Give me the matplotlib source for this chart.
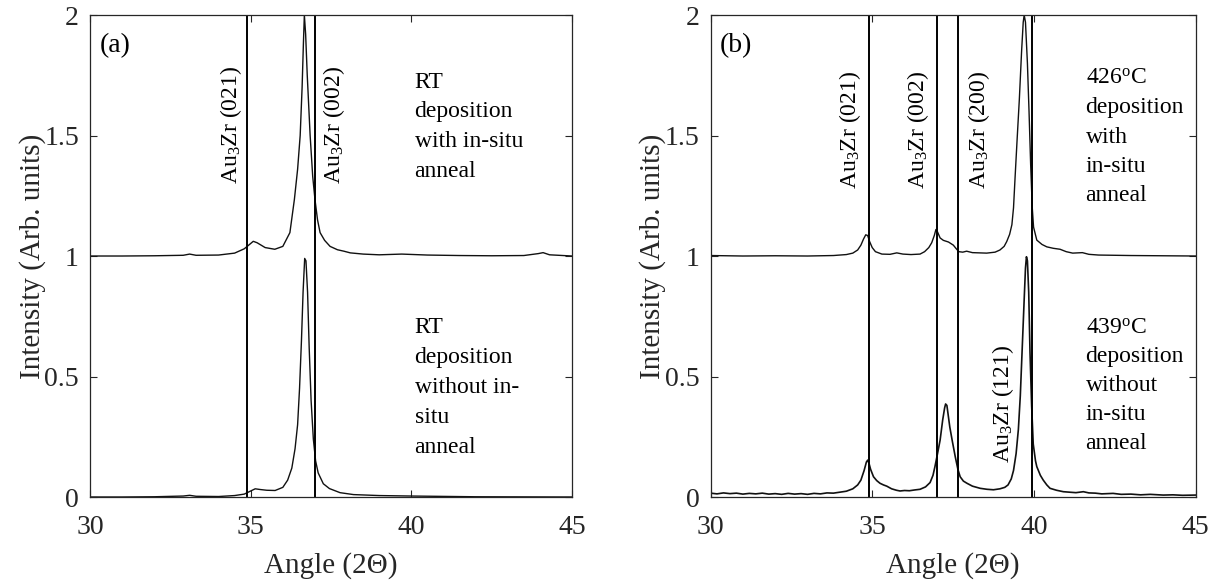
import matplotlib
matplotlib.use("Agg")
import matplotlib.pyplot as plt

plt.rcParams['font.family'] = ['Liberation Serif', 'DejaVu Serif']
plt.rcParams['mathtext.fontset'] = 'custom'
plt.rcParams['mathtext.rm'] = 'Liberation Serif'
plt.rcParams['mathtext.it'] = 'Liberation Serif:italic'

# ---------------- data ----------------
# Panel (a), top curve: RT deposition with in-situ anneal (offset +1)
a_top_x = [30, 31, 32, 32.9, 33.1, 33.3, 34, 34.5, 34.8, 35.0, 35.08, 35.2, 35.45, 35.75,
           36.0, 36.22, 36.36, 36.46, 36.54, 36.6, 36.64, 36.67, 36.71, 36.76, 36.85, 36.93,
           37.0, 37.08, 37.16, 37.3, 37.47, 37.7, 37.9, 38.1, 38.5, 39.0, 39.7, 40.5, 41.5,
           42.5, 43.5, 43.95, 44.1, 44.3, 45]
a_top_y = [1.0, 1.0, 1.001, 1.003, 1.008, 1.003, 1.004, 1.012, 1.03, 1.052, 1.061, 1.055,
           1.035, 1.028, 1.04, 1.097, 1.235, 1.36, 1.5, 1.7, 1.88, 2.0, 1.92, 1.75, 1.5,
           1.33, 1.235, 1.15, 1.097, 1.065, 1.04, 1.026, 1.02, 1.013, 1.008, 1.005, 1.008,
           1.004, 1.002, 1.001, 1.002, 1.01, 1.014, 1.005, 1.0]

# Panel (a), bottom curve: RT deposition without in-situ anneal
a_bot_x = [30, 31, 32, 32.9, 33.1, 33.3, 34, 34.5, 34.8, 35.0, 35.14, 35.3, 35.5, 35.76,
           36.0, 36.15, 36.28, 36.38, 36.46, 36.52, 36.58, 36.63, 36.68, 36.72, 36.77,
           36.82, 36.88, 36.95, 37.02, 37.1, 37.26, 37.45, 37.78, 38.2, 39, 40, 42, 45]
a_bot_y = [0.0, 0.0, 0.001, 0.004, 0.007, 0.003, 0.002, 0.006, 0.012, 0.025, 0.034, 0.031,
           0.028, 0.027, 0.04, 0.07, 0.12, 0.2, 0.3, 0.45, 0.65, 0.85, 0.99, 0.98, 0.85,
           0.62, 0.4, 0.24, 0.15, 0.1, 0.055, 0.035, 0.018, 0.01, 0.006, 0.004, 0.001, 0.0]

# Panel (b), top curve: 426 C deposition with in-situ anneal (offset +1)
b_top_x = [30.0, 31.0, 32.0, 33.0, 33.8, 34.2, 34.4, 34.55, 34.65, 34.73, 34.8, 34.86, 34.92,
           35.0, 35.1, 35.3, 35.55, 35.76, 35.95, 36.2, 36.48, 36.62, 36.75, 36.84, 36.92,
           36.97, 37.02, 37.1, 37.2, 37.36, 37.51, 37.6, 37.68, 37.8, 37.92, 38.1, 38.54,
           38.8, 38.95, 39.08, 39.16, 39.25, 39.32, 39.37, 39.42, 39.48, 39.55, 39.62, 39.67,
           39.7, 39.74, 39.8, 39.85, 39.9, 39.95, 39.99, 40.09, 40.25, 40.4, 40.6, 40.81,
           41.0, 41.2, 41.5, 41.7, 42.0, 43.0, 44.0, 45.0]
b_top_y = [1.002, 1.0, 1.001, 1.0, 1.002, 1.006, 1.012, 1.025, 1.045, 1.07, 1.088, 1.085,
           1.06, 1.035, 1.018, 1.008, 1.007, 1.013, 1.008, 1.006, 1.008, 1.018, 1.035, 1.055,
           1.085, 1.11, 1.1, 1.075, 1.065, 1.058, 1.045, 1.03, 1.018, 1.016, 1.02, 1.014,
           1.012, 1.016, 1.025, 1.04, 1.06, 1.09, 1.13, 1.2, 1.33, 1.48, 1.65, 1.85, 1.97,
           2.0, 1.97, 1.8, 1.6, 1.38, 1.2, 1.12, 1.066, 1.048, 1.038, 1.032, 1.028, 1.018,
           1.012, 1.014, 1.007, 1.004, 1.002, 1.001, 1.0]

# Panel (b), bottom curve: 439 C deposition without in-situ anneal
b_bot_x = [30.0, 30.2, 30.4, 30.6, 30.8, 31.0, 31.2, 31.4, 31.6, 31.8, 32.0, 32.2, 32.4,
           32.6, 32.8, 33.0, 33.2, 33.4, 33.6, 33.8, 34.0, 34.2, 34.4, 34.55, 34.65, 34.75,
           34.82, 34.86, 34.9, 34.95, 35.04, 35.14, 35.24, 35.35, 35.45, 35.6, 35.75, 35.86,
           36.0, 36.15, 36.3, 36.48, 36.65, 36.79, 36.88, 36.94, 37.02, 37.1, 37.18, 37.24,
           37.27, 37.31, 37.35, 37.4, 37.48, 37.57, 37.65, 37.72, 37.82, 37.93, 38.1, 38.34,
           38.55, 38.75, 38.95, 39.1, 39.2, 39.3, 39.37, 39.45, 39.52, 39.58, 39.64, 39.7,
           39.74, 39.77, 39.8, 39.84, 39.88, 39.93, 39.98, 40.05, 40.09, 40.2, 40.29, 40.4,
           40.5, 40.7, 40.91, 41.1, 41.3, 41.53, 41.7, 41.9, 42.1, 42.45, 42.7, 43.0, 43.3,
           43.6, 44.0, 44.3, 44.6, 45.0]
b_bot_y = [0.016, 0.013, 0.017, 0.014, 0.016, 0.012, 0.015, 0.013, 0.016, 0.012, 0.014,
           0.011, 0.015, 0.012, 0.014, 0.011, 0.015, 0.013, 0.017, 0.016, 0.020, 0.024,
           0.034, 0.05, 0.07, 0.11, 0.145, 0.153, 0.14, 0.115, 0.084, 0.068, 0.057, 0.05,
           0.045, 0.034, 0.028, 0.025, 0.027, 0.026, 0.029, 0.032, 0.042, 0.06, 0.09, 0.126,
           0.18, 0.236, 0.32, 0.37, 0.386, 0.38, 0.34, 0.29, 0.23, 0.166, 0.115, 0.084,
           0.066, 0.057, 0.045, 0.036, 0.032, 0.030, 0.034, 0.04, 0.05, 0.075, 0.11, 0.18,
           0.28, 0.42, 0.62, 0.82, 0.95, 0.997, 0.98, 0.85, 0.6, 0.38, 0.22, 0.15, 0.126,
           0.09, 0.07, 0.05, 0.036, 0.028, 0.022, 0.02, 0.018, 0.022, 0.017, 0.016, 0.013,
           0.015, 0.011, 0.012, 0.009, 0.011, 0.008, 0.009, 0.007, 0.008]

a_lines = [34.9, 37.0]
a_line_labels = ['Au$_3$Zr (021)', 'Au$_3$Zr (002)']
b_lines = [34.9, 37.0, 37.65, 39.95]
b_line_labels = ['Au$_3$Zr (021)', 'Au$_3$Zr (002)', 'Au$_3$Zr (200)']
b_extra_label = 'Au$_3$Zr (121)'

a_top_text = 'RT\ndeposition\nwith in-situ\nanneal'
a_bot_text = 'RT\ndeposition\nwithout in-\nsitu\nanneal'
b_top_text = '426$^{\\mathrm{o}}$C\ndeposition\nwith\nin-situ\nanneal'
b_bot_text = '439$^{\\mathrm{o}}$C\ndeposition\nwithout\nin-situ\nanneal'

x_ticks = [30, 35, 40, 45]
y_ticks = [0, 0.5, 1, 1.5, 2]
y_tick_labels = ['0', '0.5', '1', '1.5', '2']

# ---------------- figure ----------------
fig = plt.figure(figsize=(12.15, 5.8), dpi=100)
axa = fig.add_axes([0.0741, 0.1431, 0.3967, 0.831])
axb = fig.add_axes([0.5848, 0.1431, 0.3992, 0.831])

for ax in (axa, axb):
    ax.set_xlim(30, 45)
    ax.set_ylim(0, 2)
    ax.set_xticks(x_ticks)
    ax.set_yticks(y_ticks)
    ax.set_yticklabels(y_tick_labels)
    ax.tick_params(direction='in', length=5, width=0.8, top=True, right=True,
                   labelsize=20, colors='0.15')
    ax.tick_params(axis='x', pad=13)
    ax.tick_params(axis='y', pad=8)
    for s in ax.spines.values():
        s.set_linewidth(0.9)
        s.set_color('0.15')
    ax.set_xlabel('Angle (2\u0398)', fontsize=21, color='0.15', labelpad=9)
    ax.set_ylabel('Intensity (Arb. units)', fontsize=21, color='0.15', labelpad=-1)

lc = '#111111'
fs_ann = 17
# Panel (a)
axa.plot(a_top_x, a_top_y, color=lc, lw=1.0)
axa.plot(a_bot_x, a_bot_y, color=lc, lw=1.0)
for xv in a_lines:
    axa.axvline(xv, color='black', lw=1.4)
axa.text(a_lines[0] - 0.12, 1.30, a_line_labels[0], rotation=90, ha='right', va='bottom', fontsize=fs_ann)
axa.text(a_lines[1] + 0.2, 1.30, a_line_labels[1], rotation=90, ha='left', va='bottom', fontsize=fs_ann)
axa.text(40.1, 1.765, a_top_text, ha='left', va='top', fontsize=fs_ann, linespacing=1.55)
axa.text(40.1, 0.745, a_bot_text, ha='left', va='top', fontsize=fs_ann, linespacing=1.55)
axa.text(30.3, 1.875, '(a)', ha='left', va='center', fontsize=20)

# Panel (b)
axb.plot(b_top_x, b_top_y, color=lc, lw=1.0)
axb.plot(b_bot_x, b_bot_y, color=lc, lw=1.2)
for xv in b_lines:
    axb.axvline(xv, color='black', lw=1.4)
axb.text(b_lines[0] - 0.17, 1.28, b_line_labels[0], rotation=90, ha='right', va='bottom', fontsize=fs_ann)
axb.text(b_lines[1] - 0.17, 1.28, b_line_labels[1], rotation=90, ha='right', va='bottom', fontsize=fs_ann)
axb.text(b_lines[2] + 0.25, 1.28, b_line_labels[2], rotation=90, ha='left', va='bottom', fontsize=fs_ann)
axb.text(39.45, 0.14, b_extra_label, rotation=90, ha='right', va='bottom', fontsize=fs_ann)
axb.text(41.6, 1.78, b_top_text, ha='left', va='top', fontsize=fs_ann, linespacing=1.52)
axb.text(41.6, 0.745, b_bot_text, ha='left', va='top', fontsize=fs_ann, linespacing=1.5)
axb.text(30.3, 1.875, '(b)', ha='left', va='center', fontsize=20)

fig.savefig('out.png', dpi=100)
